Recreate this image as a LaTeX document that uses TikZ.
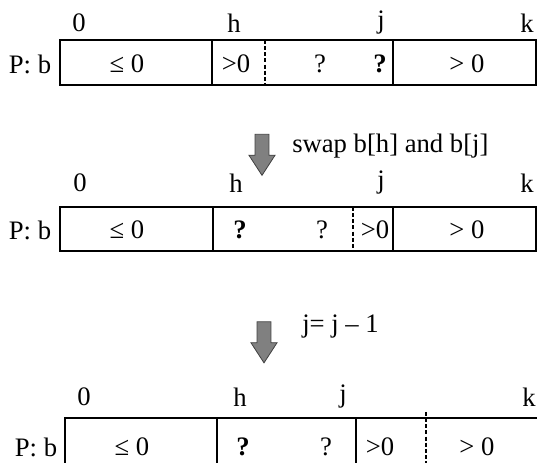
\documentclass[tikz,border=0pt]{standalone}
\usepackage{fontspec}
\setmainfont{Liberation Serif}
\usepackage{tikz}
\usetikzlibrary{shapes,arrows.meta,calc,positioning}
\tikzset{>=latex}
\tikzset{
  cell/.style={draw, line width=1.4pt},
  split/.style={line width=1.4pt, dash pattern=on 3pt off 1.6pt},
  stepArrow/.style={single arrow, draw=black!75, fill=black!50, line width=0.6pt,
    rotate=-90, minimum height=30.75pt, inner xsep=0pt, inner ysep=4.9pt,
    single arrow head extend=4.6pt, single arrow tip angle=66},
  lbl/.style={inner sep=0pt}
}

\begin{document}
\begin{tikzpicture}[x=0.75pt, y=-0.75pt, font=\fontsize{20}{23}\selectfont]
          \useasboundingbox (0,0) rectangle (537,463);
          \clip (0,0) rectangle (537,463);

          % row 1: before the swap
          \node[lbl] (pbA) at (30,64) {P: b};
          \draw[cell] (60,40) rectangle (536,85);
          \draw[cell] (212,40) -- (212,85) (393,40) -- (393,85);
          \draw[split] (265,40) -- (265,85);
          \foreach \x/\t/\n in {79/0/zeroA, 234/h/hA, 381/j/jA, 527/k/kA}
            \node[lbl] (\n) at (\x,23) {\t};
          \node[lbl] (leA) at (127,64) {≤ 0};
          \node[lbl] (gtA) at (236,64) {>0};
          \node[lbl] (qA) at (320,64) {?};
          \node[lbl] (qbA) at (380,64) {\textbf{?}};
          \node[lbl] (gtrA) at (467,64) {> 0};

          % step 1
          \node[stepArrow] (swapArrow) at (262,149.5) {};
          \node[lbl, anchor=west] (swapText) at (292,146) {swap b[h] and b[j]};

          % row 2: after the swap
          \node[lbl] (pbB) at (30,230) {P: b};
          \draw[cell] (60,207) rectangle (536,251);
          \draw[cell] (213,207) -- (213,251) (393,207) -- (393,251);
          \draw[split] (353,207) -- (353,251);
          \foreach \x/\t/\n in {80/0/zeroB, 236/h/hB, 381/j/jB, 527/k/kB}
            \node[lbl] (\n) at (\x,183) {\t};
          \node[lbl] (leB) at (127,230) {≤ 0};
          \node[lbl] (qbB) at (240,230) {\textbf{?}};
          \node[lbl] (qB) at (322,230) {?};
          \node[lbl] (gtB) at (375,230) {>0};
          \node[lbl] (gtrB) at (467,230) {> 0};

          % step 2
          \node[stepArrow] (decArrow) at (264,337) {};
          \node[lbl, anchor=west] (decText) at (302,327) {j= j – 1};

          % row 3: j moved down
          \node[lbl] (pbC) at (36,447) {P: b};
          \draw[cell] (65,418) rectangle (560,480);
          \draw[cell] (217,418) -- (217,480) (356,418) -- (356,480);
          \draw[split] (426,412) -- (426,480);
          \foreach \x/\t/\n in {84/0/zeroC, 240/h/hC, 343/j/jC, 529/k/kC}
            \node[lbl] (\n) at (\x,397) {\t};
          \node[lbl] (leC) at (132,447) {≤ 0};
          \node[lbl] (qbC) at (243,447) {\textbf{?}};
          \node[lbl] (qC) at (326,447) {?};
          \node[lbl] (gtC) at (380,447) {>0};
          \node[lbl] (gtrC) at (477,447) {> 0};
        \end{tikzpicture}
\end{document}
